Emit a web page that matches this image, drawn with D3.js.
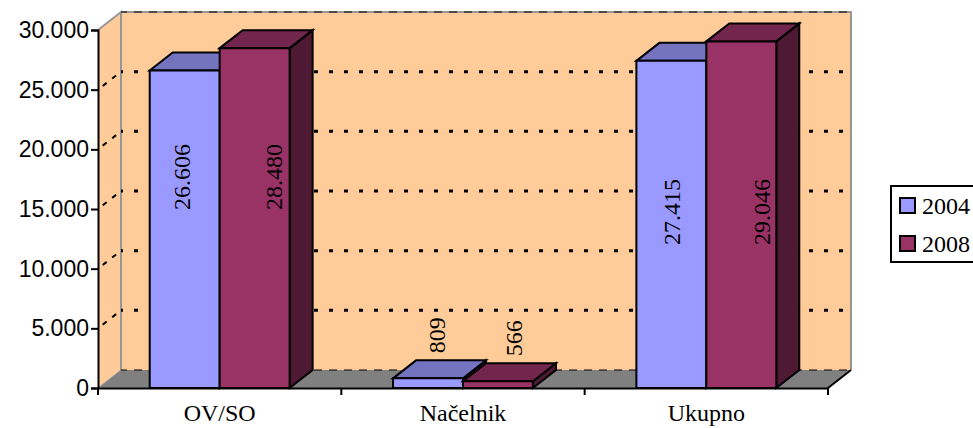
<!DOCTYPE html>
<html>
<head>
<meta charset="utf-8">
<script src="https://d3js.org/d3.v7.min.js"></script>
<style>
  html, body { margin: 0; padding: 0; background: #fff; overflow: hidden; }
  .serif { font-family: "Liberation Serif", serif; font-size: 24px; fill: #000; }
  .sans { font-family: "Liberation Sans", sans-serif; font-size: 23px; fill: #000; }
</style>
</head>
<body>
<div id="chart"></div>
<script>
//Data
var categories = ["OV/SO", "Načelnik", "Ukupno"];
var years = ["2004", "2008"];
var values2004 = [26606, 809, 27415];
var values2008 = [28480, 566, 29046];
var yTicks = [0, 5000, 10000, 15000, 20000, 25000, 30000];

//Layout
var svgWidth = 973, svgHeight = 428;
var plot = { left: 98, right: 828, top: 30, bottom: 388 };
var depth = { x: 23, y: -18 };
// label nudges from the bar's front centre, same order as the categories
var labelNudge = {
    "2004": [{ x: -3, y: 177 }, { x: 9, y: null }, { x: 1, y: 212 }],
    "2008": [{ x: 19, y: 177 }, { x: 16, y: null }, { x: 21, y: 212 }]
};

var colors = {
    "2004": { front: "#9999FF", top: "#7373BF", side: "#4D4D80" },
    "2008": { front: "#993366", top: "#73264D", side: "#4D1933" }
};

var svg = d3.select("#chart").append("svg")
    .attr("width", svgWidth)
    .attr("height", svgHeight)
    .style("display", "block");

var yScale = d3.scaleLinear().domain([0, 30000]).range([plot.bottom, plot.top]);
var xScale = d3.scaleBand().domain(categories).range([plot.left, plot.right])
    .paddingInner(0.425).paddingOuter(0.2125);
var seriesScale = d3.scaleBand().domain(years).range([0, xScale.bandwidth()]);
var step = xScale.step();

var locale = d3.formatLocale({ decimal: ",", thousands: ".", grouping: [3], currency: ["", ""] });
var fmt = locale.format(",d");

function poly(g, pts, fill, stroke, sw) {
    return g.append("polygon")
        .attr("points", pts.map(p => p.join(",")).join(" "))
        .attr("fill", fill)
        .attr("stroke", stroke)
        .attr("stroke-width", sw)
        .attr("stroke-linejoin", "miter");
}

//Walls and floor
var walls = svg.append("g");
var L = plot.left, R = plot.right, T = plot.top, B = plot.bottom, dx = depth.x, dy = depth.y;
poly(walls, [[L, T], [L + dx, T + dy], [L + dx, B + dy], [L, B]], "#FFCC99", "none", 0);
poly(walls, [[L + dx, T + dy], [R + dx, T + dy], [R + dx, B + dy], [L + dx, B + dy]], "#FFCC99", "none", 0);
poly(walls, [[L, B], [L + dx, B + dy], [R + dx, B + dy], [R, B]], "#808080", "none", 0);

walls.append("path")
    .attr("d", `M${L},${T}L${L + dx},${T + dy}L${L + dx},${B + dy}M${L + dx},${T + dy}L${R + dx},${T + dy}L${R + dx},${B + dy}`)
    .attr("fill", "none").attr("stroke", "#969696").attr("stroke-width", 2);
walls.append("path")
    .attr("d", `M${L},${B}L${L + dx},${B + dy}`)
    .attr("fill", "none").attr("stroke", "#969696").attr("stroke-width", 1);

//Gridlines on the back wall and side wall
var grid = svg.append("g");
yTicks.forEach(function(t) {
    var y = yScale(t) + dy;
    var isEdge = t === 0 || t === 30000;
    grid.append("line")
        .attr("x1", L + dx).attr("x2", R + dx)
        .attr("y1", y).attr("y2", y)
        .attr("stroke", "#000")
        .attr("stroke-width", isEdge ? 1 : 3)
        .attr("stroke-dasharray", isEdge ? "8 7" : "4 11")
        .attr("stroke-dashoffset", 2);
    if (!isEdge) {
        grid.append("line")
            .attr("x1", L).attr("x2", L + dx)
            .attr("y1", yScale(t)).attr("y2", y)
            .attr("stroke", "#000")
            .attr("stroke-width", 2)
            .attr("stroke-dasharray", "5 7 5 12")
            .attr("stroke-dashoffset", -6);
    }
});

//Bars
var bars = svg.append("g");
var series = [
    { year: "2004", values: values2004 },
    { year: "2008", values: values2008 }
];
categories.forEach(function(cat, i) {
    series.forEach(function(s) {
        var x0 = xScale(cat) + seriesScale(s.year);
        var x1 = x0 + seriesScale.bandwidth();
        var y0 = yScale(s.values[i]);
        var c = colors[s.year];
        poly(bars, [[x1, y0], [x1 + dx, y0 + dy], [x1 + dx, B + dy], [x1, B]], c.side, "#000", 2);
        poly(bars, [[x0, y0], [x0 + dx, y0 + dy], [x1 + dx, y0 + dy], [x1, y0]], c.top, "#000", 2);
        poly(bars, [[x0, y0], [x1, y0], [x1, B], [x0, B]], c.front, "#000", 2);
    });
});

//Value labels
series.forEach(function(s) {
    s.values.forEach(function(v, i) {
        var cat = categories[i];
        var nudge = labelNudge[s.year][i];
        var x = xScale(cat) + seriesScale(s.year) + seriesScale.bandwidth() / 2 + nudge.x;
        var y = nudge.y === null ? yScale(v) + dy - 7 : nudge.y;
        svg.append("text")
            .attr("class", "serif")
            .attr("transform", `translate(${x},${y}) rotate(-90)`)
            .attr("text-anchor", nudge.y === null ? "start" : "middle")
            .attr("dy", "0.33em")
            .text(fmt(v));
    });
});

//Axes
var yAxis = svg.append("g")
    .attr("transform", `translate(${L},0)`)
    .call(d3.axisLeft(yScale).tickValues(yTicks).tickSize(7).tickPadding(2).tickFormat(fmt));
yAxis.selectAll("text").attr("class", "sans").attr("font-size", null).attr("font-family", null);
yAxis.selectAll("line").attr("stroke", "#000").attr("stroke-width", 2);
yAxis.select(".domain").attr("stroke", "#000").attr("stroke-width", 2);

var xAxis = svg.append("g")
    .attr("transform", `translate(0,${B})`)
    .call(d3.axisBottom(xScale).tickSize(0).tickPadding(16));
xAxis.selectAll("text").attr("class", "serif").attr("font-size", null).attr("font-family", null);
xAxis.select(".domain").attr("stroke", "#000").attr("stroke-width", 2);

// ticks sit between the groups, not under them
d3.range(categories.length + 1).forEach(function(k) {
    svg.append("line")
        .attr("x1", L + k * step).attr("x2", L + k * step)
        .attr("y1", B).attr("y2", B + 7)
        .attr("stroke", "#000").attr("stroke-width", 2);
});
svg.append("line")
    .attr("x1", R).attr("y1", B).attr("x2", R + dx).attr("y2", B + dy)
    .attr("stroke", "#000").attr("stroke-width", 2);

//Legend
var legend = svg.append("g").attr("transform", "translate(891,186)");
legend.append("rect")
    .attr("width", 100).attr("height", 76)
    .attr("fill", "#fff").attr("stroke", "#000").attr("stroke-width", 2);
years.forEach(function(year, i) {
    var row = legend.append("g").attr("transform", `translate(0,${12 + i * 38})`);
    row.append("rect")
        .attr("x", 9).attr("width", 15).attr("height", 15)
        .attr("fill", colors[year].front).attr("stroke", "#000").attr("stroke-width", 2);
    row.append("text")
        .attr("class", "serif")
        .attr("x", 31).attr("y", 8).attr("dy", "0.35em")
        .text(year);
});
</script>
</body>
</html>
